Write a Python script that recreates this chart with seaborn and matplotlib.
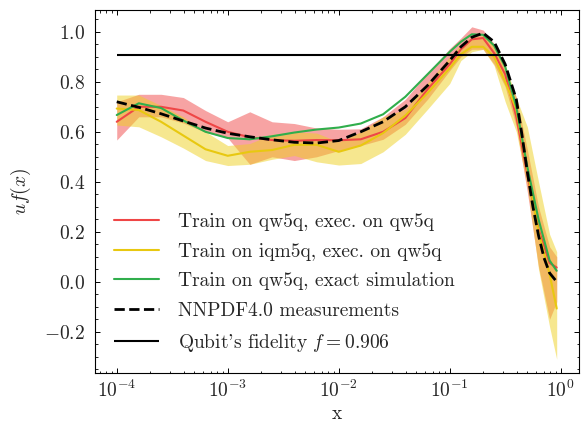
import numpy as np
import pandas as pd
import matplotlib
matplotlib.use('Agg')
import matplotlib.pyplot as plt
import seaborn as sns
from matplotlib.ticker import AutoMinorLocator, LogLocator, NullFormatter

# valores
x_fit = [1.0e-4, 1.58e-4, 2.51e-4, 3.98e-4, 6.31e-4, 1.0e-3, 1.58e-3, 2.51e-3,
         3.98e-3, 6.31e-3, 1.0e-2, 1.58e-2, 2.51e-2, 3.98e-2, 6.31e-2, 0.1,
         0.126, 0.158, 0.2, 0.251, 0.316, 0.398, 0.5, 0.631, 0.794, 0.92]

qw5q = [0.64, 0.70, 0.70, 0.685, 0.64, 0.60, 0.578, 0.567, 0.564, 0.567, 0.566, 0.57, 0.60,
        0.655, 0.77, 0.87, 0.93, 0.97, 0.975, 0.915, 0.83, 0.66, 0.43, 0.21, 0.075, 0.057]
qw5q_lo = [0.567, 0.66, 0.66, 0.635, 0.598, 0.575, 0.47, 0.50, 0.485, 0.50, 0.525, 0.545, 0.57,
           0.63, 0.73, 0.845, 0.90, 0.93, 0.93, 0.87, 0.78, 0.62, 0.36, 0.06, -0.15, -0.08]
qw5q_hi = [0.72, 0.75, 0.75, 0.737, 0.685, 0.64, 0.68, 0.64, 0.633, 0.615, 0.61, 0.612, 0.66,
           0.73, 0.835, 0.933, 0.975, 1.02, 1.007, 0.953, 0.845, 0.74, 0.53, 0.30, 0.14, 0.10]

iqm5q = [0.693, 0.687, 0.64, 0.585, 0.53, 0.504, 0.52, 0.527, 0.548, 0.548, 0.52, 0.545, 0.595,
         0.665, 0.755, 0.855, 0.91, 0.94, 0.94, 0.90, 0.80, 0.69, 0.45, 0.20, 0.03, -0.107]
iqm5q_lo = [0.627, 0.62, 0.58, 0.535, 0.485, 0.465, 0.47, 0.49, 0.505, 0.48, 0.467, 0.473, 0.52,
            0.59, 0.69, 0.793, 0.885, 0.92, 0.93, 0.865, 0.72, 0.60, 0.38, 0.05, -0.18, -0.31]
iqm5q_hi = [0.747, 0.747, 0.705, 0.66, 0.60, 0.545, 0.553, 0.59, 0.60, 0.595, 0.56, 0.60, 0.66,
            0.69, 0.795, 0.90, 0.95, 0.98, 0.985, 0.95, 0.87, 0.735, 0.62, 0.40, 0.19, 0.12]

exact = [0.667, 0.714, 0.695, 0.645, 0.60, 0.575, 0.57, 0.582, 0.597, 0.609, 0.617, 0.633, 0.67,
         0.74, 0.83, 0.92, 0.96, 0.99, 0.988, 0.945, 0.86, 0.70, 0.46, 0.25, 0.085, 0.044]

x_nnpdf = [1.0e-4, 1.58e-4, 2.51e-4, 3.98e-4, 6.31e-4, 1.0e-3, 1.58e-3, 2.51e-3,
           3.98e-3, 6.31e-3, 1.0e-2, 1.58e-2, 2.51e-2, 3.98e-2, 6.31e-2, 0.1,
           0.126, 0.158, 0.2, 0.251, 0.316, 0.398, 0.447, 0.5, 0.562, 0.631, 0.708, 0.794, 0.92]
nnpdf = [0.72, 0.698, 0.672, 0.643, 0.615, 0.594, 0.58, 0.568, 0.558, 0.555, 0.565, 0.60, 0.64,
         0.70, 0.785, 0.885, 0.94, 0.978, 0.995, 0.96, 0.87, 0.73, 0.59, 0.44, 0.30, 0.185, 0.095,
         0.035, 0.0]

fidelity = 0.906
fid_x = [1e-4, 1.0]

labels = ['Train on qw5q, exec. on qw5q', 'Train on iqm5q, exec. on qw5q',
          'Train on qw5q, exact simulation', 'NNPDF4.0 measurements',
          "Qubit's fidelity $f = 0.906$"]

# estilo
sns.set_theme(style='ticks')
plt.rcParams['font.family'] = 'serif'
plt.rcParams['font.serif'] = ['cmr10']
plt.rcParams['mathtext.fontset'] = 'cm'
plt.rcParams['axes.formatter.use_mathtext'] = True
plt.rcParams['axes.unicode_minus'] = True

fig = plt.figure(figsize=(5.81, 4.28), dpi=100)
ax = fig.add_axes([0.1635, 0.1285, 0.833, 0.848])

red = '#ef4646'
yellow = '#e8c810'
green = '#30ae4c'

ax.fill_between(x_fit, qw5q_lo, qw5q_hi, color='#f04848', alpha=0.5, lw=0)
ax.fill_between(x_fit, iqm5q_lo, iqm5q_hi, color='#eed020', alpha=0.5, lw=0)

sns.lineplot(x=x_fit, y=qw5q, color=red, lw=1.5, label=labels[0], ax=ax)
sns.lineplot(x=x_fit, y=iqm5q, color=yellow, lw=1.5, label=labels[1], ax=ax)
sns.lineplot(x=x_fit, y=exact, color=green, lw=1.5, label=labels[2], ax=ax)
sns.lineplot(x=x_nnpdf, y=nnpdf, color='black', lw=2, ls='--', label=labels[3], ax=ax)
ax.hlines(fidelity, fid_x[0], fid_x[1], color='black', lw=1.5, label=labels[4])

ax.set_xscale('log')
ax.set_xlim(6.37e-5, 1.46)
ax.set_ylim(-0.365, 1.087)
ax.xaxis.set_major_locator(LogLocator(base=10, numticks=10))
ax.xaxis.set_minor_locator(LogLocator(base=10, subs=np.arange(2, 10), numticks=20))
ax.xaxis.set_minor_formatter(NullFormatter())
ax.yaxis.set_minor_locator(AutoMinorLocator(4))

ax.tick_params(which='both', direction='in', top=True, right=True, labelsize=14, color='black')
ax.tick_params(which='major', length=3.5, width=0.7)
ax.tick_params(which='minor', length=1.8, width=0.6)
ax.tick_params(axis='y', pad=7)
ax.tick_params(axis='x', pad=5)
for s in ax.spines.values():
    s.set_linewidth(0.8)
    s.set_color('black')

ax.set_xlabel('x', fontsize=14, labelpad=3)
ax.set_ylabel('$uf(x)$', fontsize=14, labelpad=8)

ax.legend(loc='lower left', frameon=False, fontsize=14, handlelength=2.3,
          handletextpad=0.95, labelspacing=0.6, borderaxespad=0.6)

fig.savefig('out.png', dpi=100)
